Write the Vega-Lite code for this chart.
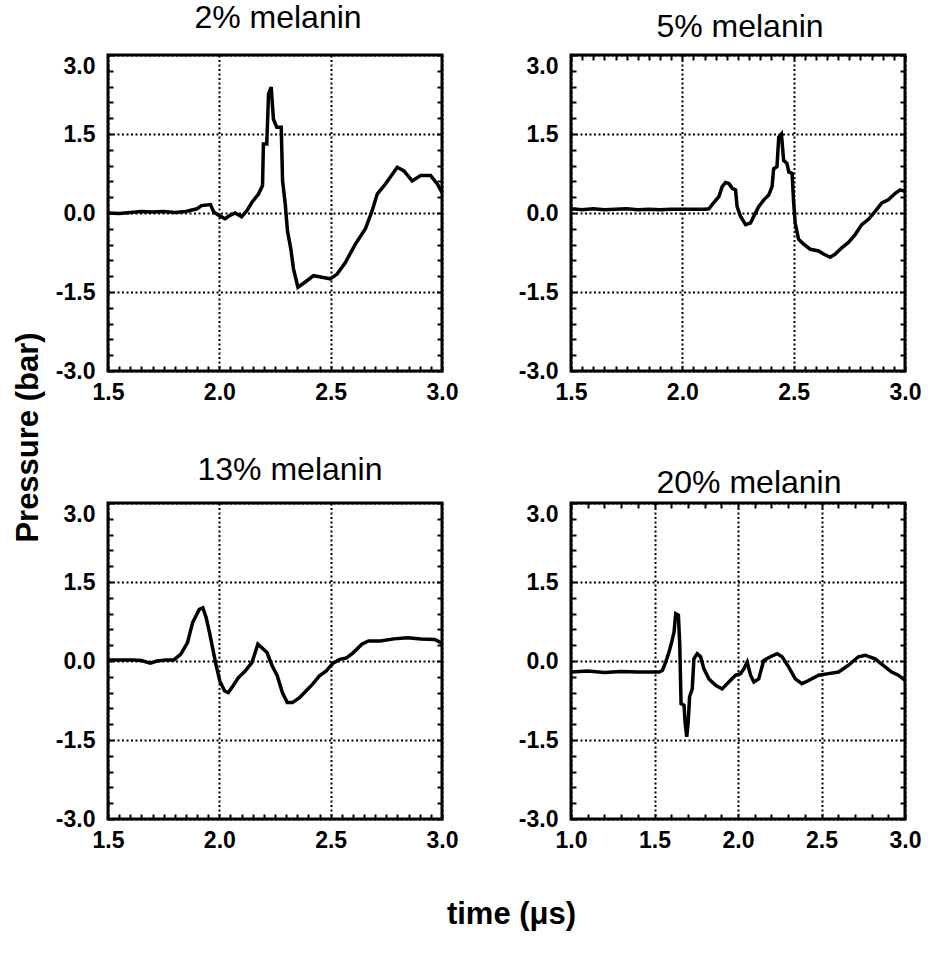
{
  "$schema": "https://vega.github.io/schema/vega-lite/v6.json",
  "padding": {"left": 10, "top": 0, "right": 5, "bottom": 5},
  "background": "white",
  "datasets": {
    "p2": [
      {"t":1.50,"p":0.0},{"t":1.55,"p":-0.01},{"t":1.60,"p":0.01},{"t":1.65,"p":0.03},{"t":1.70,"p":0.02},{"t":1.75,"p":0.03},{"t":1.80,"p":0.01},{"t":1.85,"p":0.03},{"t":1.90,"p":0.08},{"t":1.92,"p":0.14},{"t":1.96,"p":0.16},{"t":1.975,"p":0.02},{"t":2.00,"p":-0.05},{"t":2.026,"p":-0.11},{"t":2.05,"p":-0.04},{"t":2.071,"p":0.0},{"t":2.10,"p":-0.07},{"t":2.123,"p":0.04},{"t":2.146,"p":0.20},{"t":2.176,"p":0.36},{"t":2.194,"p":0.52},{"t":2.198,"p":1.31},{"t":2.213,"p":1.31},{"t":2.221,"p":2.26},{"t":2.233,"p":2.39},{"t":2.243,"p":1.78},{"t":2.258,"p":1.63},{"t":2.278,"p":1.63},{"t":2.284,"p":0.61},{"t":2.296,"p":0.17},{"t":2.306,"p":-0.34},{"t":2.321,"p":-0.68},{"t":2.333,"p":-1.06},{"t":2.353,"p":-1.41},{"t":2.386,"p":-1.31},{"t":2.423,"p":-1.19},{"t":2.461,"p":-1.22},{"t":2.498,"p":-1.25},{"t":2.529,"p":-1.16},{"t":2.566,"p":-0.94},{"t":2.611,"p":-0.59},{"t":2.656,"p":-0.30},{"t":2.686,"p":0.04},{"t":2.709,"p":0.36},{"t":2.746,"p":0.55},{"t":2.799,"p":0.87},{"t":2.829,"p":0.80},{"t":2.866,"p":0.61},{"t":2.904,"p":0.71},{"t":2.949,"p":0.71},{"t":2.979,"p":0.55},{"t":3.00,"p":0.39}
    ],
    "p5": [
      {"t":1.50,"p":0.08},{"t":1.55,"p":0.06},{"t":1.60,"p":0.08},{"t":1.65,"p":0.06},{"t":1.70,"p":0.07},{"t":1.75,"p":0.08},{"t":1.80,"p":0.06},{"t":1.85,"p":0.07},{"t":1.90,"p":0.06},{"t":1.95,"p":0.07},{"t":2.00,"p":0.07},{"t":2.05,"p":0.07},{"t":2.10,"p":0.07},{"t":2.119,"p":0.08},{"t":2.134,"p":0.16},{"t":2.164,"p":0.31},{"t":2.179,"p":0.5},{"t":2.194,"p":0.58},{"t":2.209,"p":0.56},{"t":2.224,"p":0.47},{"t":2.239,"p":0.44},{"t":2.246,"p":0.12},{"t":2.261,"p":-0.06},{"t":2.284,"p":-0.22},{"t":2.306,"p":-0.19},{"t":2.321,"p":-0.06},{"t":2.343,"p":0.12},{"t":2.366,"p":0.25},{"t":2.388,"p":0.34},{"t":2.403,"p":0.5},{"t":2.41,"p":0.84},{"t":2.425,"p":0.88},{"t":2.433,"p":1.44},{"t":2.445,"p":1.5},{"t":2.455,"p":1.0},{"t":2.47,"p":0.94},{"t":2.478,"p":0.78},{"t":2.493,"p":0.75},{"t":2.5,"p":0.19},{"t":2.507,"p":-0.19},{"t":2.522,"p":-0.5},{"t":2.545,"p":-0.59},{"t":2.575,"p":-0.69},{"t":2.612,"p":-0.72},{"t":2.634,"p":-0.78},{"t":2.664,"p":-0.84},{"t":2.687,"p":-0.78},{"t":2.716,"p":-0.66},{"t":2.746,"p":-0.56},{"t":2.776,"p":-0.41},{"t":2.806,"p":-0.22},{"t":2.836,"p":-0.12},{"t":2.866,"p":0.03},{"t":2.896,"p":0.19},{"t":2.925,"p":0.25},{"t":2.955,"p":0.37},{"t":2.978,"p":0.44},{"t":3.0,"p":0.41}
    ],
    "p13": [
      {"t":1.5,"p":0.02},{"t":1.55,"p":0.02},{"t":1.614,"p":0.02},{"t":1.65,"p":0.01},{"t":1.69,"p":-0.04},{"t":1.72,"p":0.0},{"t":1.76,"p":0.02},{"t":1.796,"p":0.02},{"t":1.827,"p":0.13},{"t":1.857,"p":0.35},{"t":1.88,"p":0.73},{"t":1.91,"p":0.98},{"t":1.926,"p":1.01},{"t":1.941,"p":0.82},{"t":1.956,"p":0.54},{"t":1.971,"p":0.22},{"t":1.986,"p":-0.09},{"t":2.002,"p":-0.38},{"t":2.024,"p":-0.57},{"t":2.04,"p":-0.6},{"t":2.062,"p":-0.47},{"t":2.085,"p":-0.32},{"t":2.116,"p":-0.19},{"t":2.146,"p":-0.03},{"t":2.161,"p":0.16},{"t":2.173,"p":0.32},{"t":2.191,"p":0.25},{"t":2.214,"p":0.16},{"t":2.237,"p":-0.09},{"t":2.26,"p":-0.28},{"t":2.283,"p":-0.6},{"t":2.305,"p":-0.79},{"t":2.328,"p":-0.79},{"t":2.359,"p":-0.70},{"t":2.389,"p":-0.57},{"t":2.419,"p":-0.44},{"t":2.45,"p":-0.28},{"t":2.48,"p":-0.19},{"t":2.511,"p":-0.04},{"t":2.541,"p":0.03},{"t":2.571,"p":0.06},{"t":2.602,"p":0.16},{"t":2.64,"p":0.32},{"t":2.67,"p":0.38},{"t":2.723,"p":0.38},{"t":2.784,"p":0.42},{"t":2.845,"p":0.44},{"t":2.906,"p":0.42},{"t":2.967,"p":0.41},{"t":3.0,"p":0.34}
    ],
    "p20": [
      {"t":1.0,"p":-0.21},{"t":1.1,"p":-0.19},{"t":1.2,"p":-0.22},{"t":1.3,"p":-0.2},{"t":1.4,"p":-0.21},{"t":1.5,"p":-0.21},{"t":1.527,"p":-0.21},{"t":1.547,"p":-0.18},{"t":1.567,"p":-0.02},{"t":1.587,"p":0.17},{"t":1.603,"p":0.36},{"t":1.617,"p":0.55},{"t":1.627,"p":0.9},{"t":1.643,"p":0.87},{"t":1.651,"p":0.33},{"t":1.659,"p":-0.81},{"t":1.677,"p":-0.84},{"t":1.683,"p":-1.16},{"t":1.693,"p":-1.44},{"t":1.702,"p":-1.16},{"t":1.71,"p":-0.68},{"t":1.726,"p":-0.53},{"t":1.736,"p":0.04},{"t":1.756,"p":0.14},{"t":1.776,"p":0.08},{"t":1.796,"p":-0.15},{"t":1.826,"p":-0.34},{"t":1.866,"p":-0.46},{"t":1.905,"p":-0.53},{"t":1.945,"p":-0.4},{"t":1.985,"p":-0.27},{"t":2.015,"p":-0.24},{"t":2.035,"p":-0.15},{"t":2.055,"p":-0.02},{"t":2.075,"p":-0.27},{"t":2.095,"p":-0.4},{"t":2.124,"p":-0.34},{"t":2.154,"p":0.01},{"t":2.194,"p":0.08},{"t":2.234,"p":0.14},{"t":2.264,"p":0.08},{"t":2.303,"p":-0.11},{"t":2.343,"p":-0.34},{"t":2.383,"p":-0.43},{"t":2.423,"p":-0.37},{"t":2.483,"p":-0.27},{"t":2.542,"p":-0.24},{"t":2.602,"p":-0.21},{"t":2.662,"p":-0.08},{"t":2.721,"p":0.08},{"t":2.761,"p":0.11},{"t":2.821,"p":0.04},{"t":2.881,"p":-0.11},{"t":2.92,"p":-0.21},{"t":2.96,"p":-0.27},{"t":3.0,"p":-0.37}
    ]
  },
  "columns": 2,
  "spacing": {"row": 132, "column": 129},
  "bounds": "flush",
  "concat": [
    {
      "title": {"text": "2% melanin", "offset": 19, "dx": 3},
      "width": 334, "height": 316,
      "data": {"name": "p2"},
      "layer": [
        {
          "mark": {"type": "line", "color": "black", "strokeWidth": 3.5},
          "encoding": {
            "x": {"field": "t", "type": "quantitative", "scale": {"domain": [1.5, 3.0], "nice": false, "zero": false},
              "axis": {"orient": "bottom", "title": null, "values": [1.5,1.55,1.6,1.65,1.7,1.75,1.8,1.85,1.9,1.95,2,2.05,2.1,2.15,2.2,2.25,2.3,2.35,2.4,2.45,2.5,2.55,2.6,2.65,2.7,2.75,2.8,2.85,2.9,2.95,3],
                "labelExpr": "abs(datum.value*2 - round(datum.value*2)) < 0.001 ? format(datum.value, '.1f') : ''",
                "labelPadding": 15, "labelAlign": "center", "labelFlush": false, "grid": true,
                "gridOpacity": {"condition": {"test": "abs(datum.value*2 - round(datum.value*2)) < 0.001", "value": 1}, "value": 0}}},
            "y": {"field": "p", "type": "quantitative", "scale": {"domain": [-3, 3], "nice": false, "zero": false},
              "axis": {"orient": "left", "title": "Pressure (bar)", "titleX": -80, "titleY": 382, "titleAngle": -90, "titleAlign": "center", "titleBaseline": "middle",
                "values": [-3,-2.7,-2.4,-2.1,-1.8,-1.5,-1.2,-0.9,-0.6,-0.3,0,0.3,0.6,0.9,1.2,1.5,1.8,2.1,2.4,2.7,3],
                "labelExpr": "abs(datum.value/1.5 - round(datum.value/1.5)) < 0.001 ? replace(format(datum.value, '.1f'), '−', '-') : ''",
                "labelPadding": 18, "grid": true,
                "labelBaseline": {"condition": {"test": "datum.value == 3", "value": "top"}, "value": "middle"},
                "gridOpacity": {"condition": {"test": "abs(datum.value/1.5 - round(datum.value/1.5)) < 0.001", "value": 1}, "value": 0}}}
          }
        },
        {
          "mark": {"type": "line", "opacity": 0},
          "encoding": {
            "x": {"field": "t", "type": "quantitative", "scale": {"domain": [1.5, 3.0], "nice": false, "zero": false}, "axis": null},
            "y": {"field": "p", "type": "quantitative", "scale": {"domain": [-3, 3], "nice": false, "zero": false},
              "axis": {"orient": "right", "title": null, "labels": false, "grid": false, "values": [-3,-2.7,-2.4,-2.1,-1.8,-1.5,-1.2,-0.9,-0.6,-0.3,0,0.3,0.6,0.9,1.2,1.5,1.8,2.1,2.4,2.7,3]}}
          }
        }
      ],
      "resolve": {"axis": {"x": "independent", "y": "independent"}}
    },
    {
      "title": {"text": "5% melanin", "offset": 10, "dx": 2},
      "width": 334, "height": 316,
      "data": {"name": "p5"},
      "layer": [
        {
          "mark": {"type": "line", "color": "black", "strokeWidth": 3.5},
          "encoding": {
            "x": {"field": "t", "type": "quantitative", "scale": {"domain": [1.5, 3.0], "nice": false, "zero": false},
              "axis": {"orient": "bottom", "title": null, "values": [1.5,1.55,1.6,1.65,1.7,1.75,1.8,1.85,1.9,1.95,2,2.05,2.1,2.15,2.2,2.25,2.3,2.35,2.4,2.45,2.5,2.55,2.6,2.65,2.7,2.75,2.8,2.85,2.9,2.95,3],
                "labelExpr": "abs(datum.value*2 - round(datum.value*2)) < 0.001 ? format(datum.value, '.1f') : ''",
                "labelPadding": 15, "labelAlign": "center", "labelFlush": false, "grid": true,
                "gridOpacity": {"condition": {"test": "abs(datum.value*2 - round(datum.value*2)) < 0.001", "value": 1}, "value": 0}}},
            "y": {"field": "p", "type": "quantitative", "scale": {"domain": [-3, 3], "nice": false, "zero": false},
              "axis": {"orient": "left", "title": null,
                "values": [-3,-2.7,-2.4,-2.1,-1.8,-1.5,-1.2,-0.9,-0.6,-0.3,0,0.3,0.6,0.9,1.2,1.5,1.8,2.1,2.4,2.7,3],
                "labelExpr": "abs(datum.value/1.5 - round(datum.value/1.5)) < 0.001 ? replace(format(datum.value, '.1f'), '−', '-') : ''",
                "labelPadding": 18, "grid": true,
                "labelBaseline": {"condition": {"test": "datum.value == 3", "value": "top"}, "value": "middle"},
                "gridOpacity": {"condition": {"test": "abs(datum.value/1.5 - round(datum.value/1.5)) < 0.001", "value": 1}, "value": 0}}}
          }
        },
        {
          "mark": {"type": "line", "opacity": 0},
          "encoding": {
            "x": {"field": "t", "type": "quantitative", "scale": {"domain": [1.5, 3.0], "nice": false, "zero": false},
              "axis": {"orient": "top", "title": null, "labels": false, "grid": false, "values": [1.5,1.55,1.6,1.65,1.7,1.75,1.8,1.85,1.9,1.95,2,2.05,2.1,2.15,2.2,2.25,2.3,2.35,2.4,2.45,2.5,2.55,2.6,2.65,2.7,2.75,2.8,2.85,2.9,2.95,3]}},
            "y": {"field": "p", "type": "quantitative", "scale": {"domain": [-3, 3], "nice": false, "zero": false},
              "axis": {"orient": "right", "title": null, "labels": false, "grid": false, "values": [-3,-2.7,-2.4,-2.1,-1.8,-1.5,-1.2,-0.9,-0.6,-0.3,0,0.3,0.6,0.9,1.2,1.5,1.8,2.1,2.4,2.7,3]}}
          }
        }
      ],
      "resolve": {"axis": {"x": "independent", "y": "independent"}}
    },
    {
      "title": {"text": "13% melanin", "offset": 15, "dx": 15},
      "width": 334, "height": 316,
      "data": {"name": "p13"},
      "layer": [
        {
          "mark": {"type": "line", "color": "black", "strokeWidth": 3.5},
          "encoding": {
            "x": {"field": "t", "type": "quantitative", "scale": {"domain": [1.5, 3.0], "nice": false, "zero": false},
              "axis": {"orient": "bottom", "title": "time  (μs)", "titleX": 403, "titleY": 104, "titleAlign": "center", "titleBaseline": "alphabetic",
                "values": [1.5,1.55,1.6,1.65,1.7,1.75,1.8,1.85,1.9,1.95,2,2.05,2.1,2.15,2.2,2.25,2.3,2.35,2.4,2.45,2.5,2.55,2.6,2.65,2.7,2.75,2.8,2.85,2.9,2.95,3],
                "labelExpr": "abs(datum.value*2 - round(datum.value*2)) < 0.001 ? format(datum.value, '.1f') : ''",
                "labelPadding": 15, "labelAlign": "center", "labelFlush": false, "grid": true,
                "gridOpacity": {"condition": {"test": "abs(datum.value*2 - round(datum.value*2)) < 0.001", "value": 1}, "value": 0}}},
            "y": {"field": "p", "type": "quantitative", "scale": {"domain": [-3, 3], "nice": false, "zero": false},
              "axis": {"orient": "left", "title": null,
                "values": [-3,-2.7,-2.4,-2.1,-1.8,-1.5,-1.2,-0.9,-0.6,-0.3,0,0.3,0.6,0.9,1.2,1.5,1.8,2.1,2.4,2.7,3],
                "labelExpr": "abs(datum.value/1.5 - round(datum.value/1.5)) < 0.001 ? replace(format(datum.value, '.1f'), '−', '-') : ''",
                "labelPadding": 18, "grid": true,
                "labelBaseline": {"condition": {"test": "datum.value == 3", "value": "top"}, "value": "middle"},
                "gridOpacity": {"condition": {"test": "abs(datum.value/1.5 - round(datum.value/1.5)) < 0.001", "value": 1}, "value": 0}}}
          }
        },
        {
          "mark": {"type": "line", "opacity": 0},
          "encoding": {
            "x": {"field": "t", "type": "quantitative", "scale": {"domain": [1.5, 3.0], "nice": false, "zero": false}, "axis": null},
            "y": {"field": "p", "type": "quantitative", "scale": {"domain": [-3, 3], "nice": false, "zero": false},
              "axis": {"orient": "right", "title": null, "labels": false, "grid": false, "values": [-3,-2.7,-2.4,-2.1,-1.8,-1.5,-1.2,-0.9,-0.6,-0.3,0,0.3,0.6,0.9,1.2,1.5,1.8,2.1,2.4,2.7,3]}}
          }
        }
      ],
      "resolve": {"axis": {"x": "independent", "y": "independent"}}
    },
    {
      "title": {"text": "20% melanin", "offset": 2, "dx": 11},
      "width": 334, "height": 316,
      "data": {"name": "p20"},
      "layer": [
        {
          "mark": {"type": "line", "color": "black", "strokeWidth": 3.5},
          "encoding": {
            "x": {"field": "t", "type": "quantitative", "scale": {"domain": [1.0, 3.0], "nice": false, "zero": false},
              "axis": {"orient": "bottom", "title": null, "values": [1,1.1,1.2,1.3,1.4,1.5,1.6,1.7,1.8,1.9,2,2.1,2.2,2.3,2.4,2.5,2.6,2.7,2.8,2.9,3],
                "labelExpr": "abs(datum.value*2 - round(datum.value*2)) < 0.001 ? format(datum.value, '.1f') : ''",
                "labelPadding": 15, "labelAlign": "center", "labelFlush": false, "grid": true,
                "gridOpacity": {"condition": {"test": "abs(datum.value*2 - round(datum.value*2)) < 0.001", "value": 1}, "value": 0}}},
            "y": {"field": "p", "type": "quantitative", "scale": {"domain": [-3, 3], "nice": false, "zero": false},
              "axis": {"orient": "left", "title": null,
                "values": [-3,-2.7,-2.4,-2.1,-1.8,-1.5,-1.2,-0.9,-0.6,-0.3,0,0.3,0.6,0.9,1.2,1.5,1.8,2.1,2.4,2.7,3],
                "labelExpr": "abs(datum.value/1.5 - round(datum.value/1.5)) < 0.001 ? replace(format(datum.value, '.1f'), '−', '-') : ''",
                "labelPadding": 18, "grid": true,
                "labelBaseline": {"condition": {"test": "datum.value == 3", "value": "top"}, "value": "middle"},
                "gridOpacity": {"condition": {"test": "abs(datum.value/1.5 - round(datum.value/1.5)) < 0.001", "value": 1}, "value": 0}}}
          }
        },
        {
          "mark": {"type": "line", "opacity": 0},
          "encoding": {
            "x": {"field": "t", "type": "quantitative", "scale": {"domain": [1.0, 3.0], "nice": false, "zero": false},
              "axis": {"orient": "top", "title": null, "labels": false, "grid": false, "values": [1,1.1,1.2,1.3,1.4,1.5,1.6,1.7,1.8,1.9,2,2.1,2.2,2.3,2.4,2.5,2.6,2.7,2.8,2.9,3]}},
            "y": {"field": "p", "type": "quantitative", "scale": {"domain": [-3, 3], "nice": false, "zero": false},
              "axis": {"orient": "right", "title": null, "labels": false, "grid": false, "values": [-3,-2.7,-2.4,-2.1,-1.8,-1.5,-1.2,-0.9,-0.6,-0.3,0,0.3,0.6,0.9,1.2,1.5,1.8,2.1,2.4,2.7,3]}}
          }
        }
      ],
      "resolve": {"axis": {"x": "independent", "y": "independent"}}
    }
  ],
  "config": {
    "view": {"stroke": "black", "strokeWidth": 3},
    "font": "Liberation Sans",
    "axis": {
      "domain": false,
      "labelFont": "Liberation Sans", "labelFontWeight": "bold", "labelFontSize": 23, "labelColor": "black",
      "tickColor": "black", "tickWidth": 2, "tickSize": -5,
      "gridColor": "black", "gridWidth": 2, "gridDash": [2, 2.5],
      "labelOverlap": false,
      "titleFont": "Liberation Sans", "titleFontWeight": "bold", "titleFontSize": 31, "titleColor": "black"
    },
    "title": {"font": "Liberation Sans", "fontSize": 32, "fontWeight": "normal", "color": "black", "baseline": "alphabetic", "anchor": "middle"}
  }
}
